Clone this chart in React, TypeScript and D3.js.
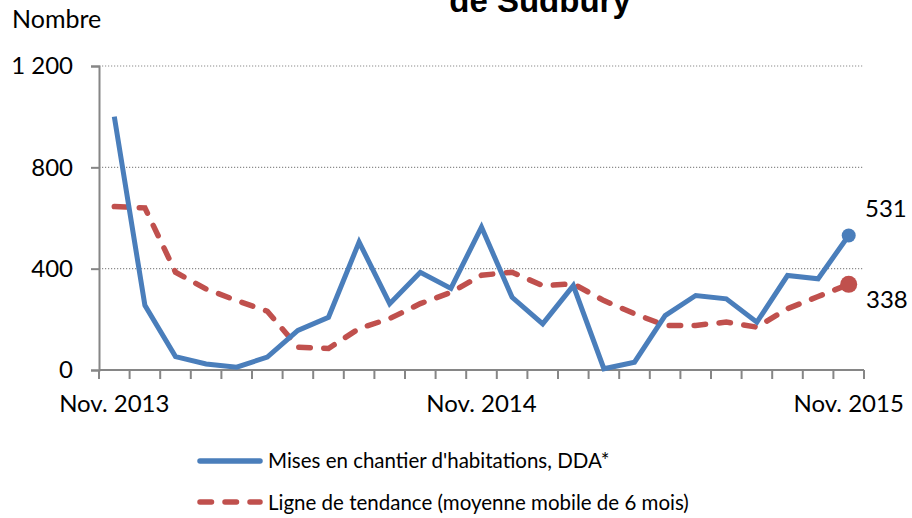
import React, { useRef, useEffect } from "react";
import * as d3 from "d3";

const months = [
    "Nov. 2013", "Déc. 2013", "Janv. 2014", "Févr. 2014", "Mars 2014", "Avr. 2014",
    "Mai 2014", "Juin 2014", "Juil. 2014", "Août 2014", "Sept. 2014", "Oct. 2014",
    "Nov. 2014", "Déc. 2014", "Janv. 2015", "Févr. 2015", "Mars 2015", "Avr. 2015",
    "Mai 2015", "Juin 2015", "Juil. 2015", "Août 2015", "Sept. 2015", "Oct. 2015",
    "Nov. 2015",
];
const starts = [1000, 255, 53, 24, 11, 51, 156, 208, 505, 262, 386, 322, 564, 287, 182, 333, 5, 31, 215, 294, 281, 189, 373, 360, 531];
const trend = [645, 640, 386, 320, 274, 232, 90, 85, 164, 203, 262, 306, 374, 386, 333, 340, 274, 222, 176, 176, 189, 169, 242, 290, 338];
const xTickLabels = ["Nov. 2013", "Nov. 2014", "Nov. 2015"];
const yTicks = [0, 400, 800, 1200];

const title = "de Sudbury";
const yTitle = "Nombre";
const seriesNames = ["Mises en chantier d'habitations, DDA*", "Ligne de tendance (moyenne mobile de 6 mois)"];

const BLUE = "#4a7ebb";
const RED = "#c0504d";
const AXIS = "#868686";
const FONT = "Lato, 'Open Sans', sans-serif";

const App = () => {
    const ref = useRef<SVGSVGElement>(null);
    const width = 912;
    const height = 518;

    useEffect(() => {
        const svg = d3.select(ref.current);
        svg.selectAll("*").remove();

        const left = 99, right = 864, top = 66, bottom = 370;
        const band = d3.scaleBand<number>().domain(d3.range(months.length)).range([left, right]).padding(0);
        const x = d3.scalePoint<number>().domain(d3.range(months.length)).range([left, right]).padding(0.5);
        const y = d3.scaleLinear().domain([0, 1200]).range([bottom, top]);
        const fmt = d3.formatLocale({ decimal: ",", thousands: " ", grouping: [3], currency: ["", " $"] }).format(",d");

        // title (cut off at the top in the original)
        svg.append("text")
            .attr("x", 540).attr("y", 12)
            .attr("text-anchor", "middle")
            .style("font-family", "'Liberation Sans', Arial, sans-serif")
            .style("font-weight", "bold")
            .style("font-size", "33px")
            .text(title);

        svg.append("text")
            .attr("x", 12).attr("y", 28)
            .style("font-family", FONT).style("font-size", "25px")
            .text(yTitle);

        // gridlines
        svg.append("g").selectAll("line").data(yTicks.filter(d => d > 0)).join("line")
            .attr("x1", left).attr("x2", right)
            .attr("y1", d => y(d)).attr("y2", d => y(d))
            .attr("stroke", "#8c8c8c").attr("stroke-width", 1.2)
            .attr("stroke-dasharray", "1.2,1.8");

        // y axis
        const yAxis = svg.append("g")
            .attr("transform", `translate(${left},0)`)
            .call(d3.axisLeft(y).tickValues(yTicks).tickSize(8).tickPadding(18).tickFormat(d => fmt(+d)));
        yAxis.select(".domain").attr("stroke", AXIS).attr("stroke-width", 2);
        yAxis.selectAll(".tick line").attr("stroke", AXIS).attr("stroke-width", 2);
        yAxis.selectAll(".tick text")
            .attr("fill", "#000")
            .style("font-family", FONT).style("font-size", "24px");

        // x axis
        const xg = svg.append("g");
        xg.append("line")
            .attr("x1", left).attr("x2", right)
            .attr("y1", bottom).attr("y2", bottom)
            .attr("stroke", AXIS).attr("stroke-width", 2);
        xg.selectAll("line.tick").data(d3.range(months.length + 1)).join("line")
            .attr("class", "tick")
            .attr("x1", i => (band(i) ?? right)).attr("x2", i => (band(i) ?? right))
            .attr("y1", bottom).attr("y2", bottom + 9)
            .attr("stroke", AXIS).attr("stroke-width", 2);
        xg.selectAll("text").data(d3.range(months.length).filter(i => xTickLabels.includes(months[i]))).join("text")
            .attr("x", i => x(i)!).attr("y", 412)
            .attr("text-anchor", "middle")
            .style("font-family", FONT).style("font-size", "24px")
            .text(i => months[i]);

        // lines
        const line = d3.line<number>().x((d, i) => x(i)!).y(d => y(d));
        svg.append("path")
            .datum(trend)
            .attr("d", line)
            .attr("fill", "none")
            .attr("stroke", RED).attr("stroke-width", 5.5)
            .attr("stroke-linecap", "round")
            .attr("stroke-dasharray", "11.5,13.5");
        svg.append("path")
            .datum(starts)
            .attr("d", line)
            .attr("fill", "none")
            .attr("stroke", BLUE).attr("stroke-width", 5)
            .attr("stroke-linejoin", "miter");

        // end markers + labels
        const last = months.length - 1;
        svg.append("circle").attr("cx", x(last)!).attr("cy", y(starts[last])).attr("r", 7).attr("fill", BLUE);
        svg.append("circle").attr("cx", x(last)!).attr("cy", y(trend[last])).attr("r", 8.5).attr("fill", RED);
        svg.append("text")
            .attr("x", 865).attr("y", y(starts[last]) - 18)
            .style("font-family", FONT).style("font-size", "24px")
            .text(starts[last]);
        svg.append("text")
            .attr("x", 866).attr("y", y(trend[last]) + 24)
            .style("font-family", FONT).style("font-size", "24px")
            .text(trend[last]);

        // legend
        const legend = svg.append("g");
        const rows = [
            { name: seriesNames[0], color: BLUE, dash: null, ly: 461, ty: 468 },
            { name: seriesNames[1], color: RED, dash: "11.5,13.5", ly: 502, ty: 510 },
        ];
        rows.forEach(r => {
            legend.append("line")
                .attr("x1", 200).attr("x2", 260)
                .attr("y1", r.ly).attr("y2", r.ly)
                .attr("stroke", r.color).attr("stroke-width", 5.5)
                .attr("stroke-linecap", "round")
                .attr("stroke-dasharray", r.dash);
            legend.append("text")
                .attr("x", 268).attr("y", r.ty)
                .style("font-family", FONT).style("font-size", "20.5px")
                .text(r.name);
        });
    }, []);

    return <svg ref={ref} width={width} height={height}
        style={{ position: "absolute", left: 0, top: 0, background: "#fff" }} />;
};

export default App;
